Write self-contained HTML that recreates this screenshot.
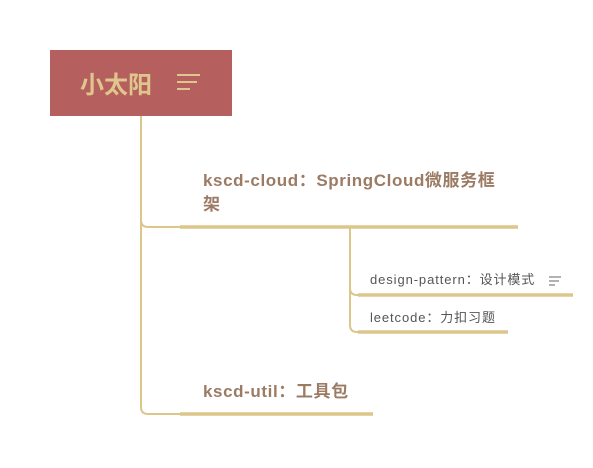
<!DOCTYPE html>
<html><head><meta charset="utf-8"><style>
html,body{margin:0;padding:0;background:#fff;width:593px;height:468px;overflow:hidden}
text{font-family:"Liberation Sans","Noto Sans CJK SC",sans-serif}
</style></head><body>
<svg width="593" height="468" xmlns="http://www.w3.org/2000/svg">
<rect x="50" y="50" width="182" height="66" fill="#b65f5f"/>
<text x="80" y="93" font-size="24" font-weight="bold" fill="#dfc68d">小太阳</text>
<g stroke="#dfc68d" stroke-width="2">
<line x1="177" y1="75" x2="200" y2="75"/><line x1="177" y1="82" x2="197" y2="82"/><line x1="177" y1="89" x2="190" y2="89"/>
</g>
<g fill="none" stroke="#dcc68a" stroke-width="2">
<path d="M141 116 V220 Q141 227 148 227 H180"/>
<path d="M141 220 V407 Q141 414 148 414 H180"/>
<path d="M350 227 V288 Q350 295 357 295 H360"/>
<path d="M350 288 V325 Q350 332 357 332 H360"/>
</g>
<g stroke="#dcc68a" stroke-width="3.5">
<line x1="180" y1="227" x2="518" y2="227"/>
<line x1="180" y1="414" x2="373" y2="414"/>
<line x1="358" y1="295" x2="573" y2="295"/>
<line x1="358" y1="332" x2="508" y2="332"/>
</g>
<g fill="#9b7b64" font-size="17" font-weight="bold" letter-spacing="0.6">
<text x="203" y="186">kscd-cloud：SpringCloud微服务框</text>
<text x="203" y="210">架</text>
<text x="203" y="397">kscd-util：工具包</text>
</g>
<g fill="#555" font-size="13" letter-spacing="0.9">
<text x="370" y="284">design-pattern：设计模式</text>
<text x="370" y="322">leetcode：力扣习题</text>
</g>
<g stroke="#666" stroke-width="1">
<line x1="549" y1="277" x2="561" y2="277"/><line x1="549" y1="281" x2="559" y2="281"/><line x1="549" y1="285" x2="555" y2="285"/>
</g>
</svg>
</body></html>
